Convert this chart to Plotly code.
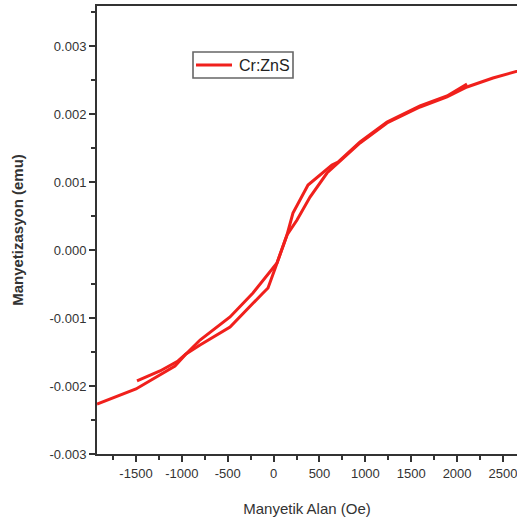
import plotly.graph_objects as go

# Branch A (long branch, field swept over full range)
field_a = [-1925, -1500, -1075, -955, -802, -475, -126, -61, 26, 102, 146,
           255, 397, 582, 702, 942, 1236, 1596, 1890, 2108, 2391, 2653, 3013]
moment_a = [-0.002265, -0.002044, -0.001706, -0.001529, -0.001397, -0.001132,
            -0.000647, -0.000559, -0.000235, 0.0000735, 0.000221,
            0.000441, 0.000779, 0.001132, 0.001279, 0.001574, 0.001868,
            0.002103, 0.00225, 0.002397, 0.002529, 0.002632, 0.002765]

# Branch B (return branch, from ~2100 Oe back to ~-1500 Oe)
field_b = [2108, 1890, 1596, 1236, 942, 702, 636, 375, 211, 146, 37, -225,
           -475, -802, -955, -1042, -1238, -1489]
moment_b = [0.002441, 0.002265, 0.002118, 0.001882, 0.001588, 0.001294,
            0.00125, 0.000956, 0.000544, 0.000221, -0.000191, -0.000632,
            -0.000985, -0.001324, -0.001529, -0.001632, -0.001779, -0.001926]

x_ticks = [-1500, -1000, -500, 0, 500, 1000, 1500, 2000, 2500]
y_ticks = [-0.003, -0.002, -0.001, 0.0, 0.001, 0.002, 0.003]
y_tick_text = ["-0.003", "-0.002", "-0.001", "0.000", "0.001", "0.002", "0.003"]

series_name = "Cr:ZnS"
x_title = "Manyetik Alan (Oe)"
y_title = "Manyetizasyon (emu)"

red = "#f0201c"
axis_col = "#333333"

# plot area in pixels
L, R, T, B = 97, 517, 6, 454
W, H = R - L, B - T


def px(xp):
    return (xp - L) / W


def py(yp):
    return (B - yp) / H


fig = go.Figure()
fig.add_trace(go.Scatter(
    x=field_a + [None] + field_b,
    y=moment_a + [None] + moment_b,
    mode="lines",
    name=series_name,
    line=dict(color=red, width=3),
    connectgaps=False,
    showlegend=False,
))

# legend box (drawn as decoration)
fig.add_shape(type="rect", xref="paper", yref="paper",
              x0=px(193), x1=px(293), y0=py(78), y1=py(52),
              line=dict(color="#666666", width=1.6), fillcolor="white", layer="above")
fig.add_shape(type="line", xref="paper", yref="paper",
              x0=px(196), x1=px(232), y0=py(65), y1=py(65),
              line=dict(color=red, width=3), layer="above")
fig.add_annotation(xref="paper", yref="paper", x=px(237), y=py(65.5),
                   xanchor="left", yanchor="middle", showarrow=False,
                   text=series_name, font=dict(size=16, color="#222222"))

fig.update_layout(
    width=517, height=523,
    margin=dict(l=L, r=517 - R, t=T, b=523 - B, autoexpand=False),
    paper_bgcolor="white", plot_bgcolor="white",
    font=dict(family="Liberation Sans, Arial, sans-serif", color=axis_col),
    showlegend=False,
    xaxis=dict(
        range=[-1925, 2653],
        automargin=False,
        tickvals=x_ticks,
        ticktext=[str(v) for v in x_ticks],
        ticks="outside", ticklen=6, tickwidth=1.5, tickcolor=axis_col,
        minor=dict(dtick=250, tick0=0, ticks="outside", ticklen=4,
                   tickwidth=1.5, tickcolor=axis_col),
        showline=True, linecolor=axis_col, linewidth=2, mirror=True,
        showgrid=False, zeroline=False,
        ticklabeloverflow="allow",
        tickfont=dict(size=13, color=axis_col),
        title=dict(text=x_title, font=dict(size=15, color="#333333"), standoff=24),
    ),
    yaxis=dict(
        range=[-0.003, 0.003588],
        automargin=False,
        tickvals=y_ticks,
        ticktext=y_tick_text,
        ticks="outside", ticklen=6, tickwidth=1.5, tickcolor=axis_col,
        minor=dict(dtick=0.0005, tick0=0, ticks="outside", ticklen=4,
                   tickwidth=1.5, tickcolor=axis_col),
        showline=True, linecolor=axis_col, linewidth=2, mirror=False,
        showgrid=False, zeroline=False,
        tickfont=dict(size=13, color=axis_col),
        title=dict(text="<b>" + y_title + "</b>", font=dict(size=15, color="#333333"), standoff=22),
    ),
)

fig.write_html(
    "out.html",
    config={"displayModeBar": False},
    post_script="document.body.style.margin='0';document.body.style.overflow='hidden';",
)
